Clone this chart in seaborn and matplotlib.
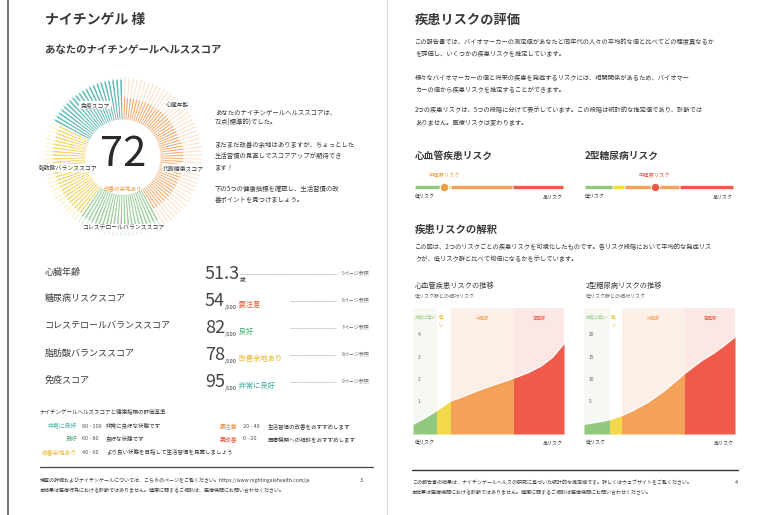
import matplotlib.pyplot as plt
import numpy as np
import seaborn as sns
from matplotlib.lines import Line2D
from matplotlib.patches import Rectangle

W, H = 760, 515

# ---- data ----------------------------------------------------------------
total_score = 72
seg_labels = ["心臓年齢", "代謝健康スコア", "コレステロールバランススコア",
              "脂肪酸バランススコア", "免疫スコア"]
seg_scores = [51.3, 54, 82, 78, 95]
seg_bars = [25, 25, 22, 27, 21]
seg_colors = ["#f2a15c", "#f3a866", "#8fca8c", "#f1d35c", "#52b4ac"]

row_labels = ["心臓年齢", "糖尿病リスクスコア", "コレステロールバランススコア",
              "脂肪酸バランススコア", "免疫スコア"]
row_values = ["51.3", "54", "82", "78", "95"]
row_units = ["歳", "/100", "/100", "/100", "/100"]
row_tags = ["", "要注意", "良好", "改善余地あり", "非常に良好"]
row_tag_colors = ["#333333", "#e8603c", "#3fa56e", "#e9b125", "#3aa8a2"]
row_pages = ["5ページ参照", "6ページ参照", "7ページ参照", "8ページ参照", "9ページ参照"]

legend_left = [("非常に良好", "80 - 100", "非常に良好な状態です", "#3aa8a2"),
               ("良好", "60 - 80", "良好な状態です", "#3fa56e"),
               ("改善余地あり", "40 - 60", "より良い状態を目指して生活習慣を見直しましょう", "#e9b125")]
legend_right = [("要注意", "20 - 40", "生活習慣の改善をおすすめします", "#f08a3c"),
                ("要改善", "0 - 20", "医療機関への相談をおすすめします", "#e8503c")]

band_edges = [[0, 16, 25, 67, 100], [0, 17, 25, 67, 100]]
band_names = ["非常に低い", "低\nい", "中程度", "高程度"]
band_colors = ["#93c97f", "#f3d84c", "#f4a25a", "#ef5b4b"]
band_bg = ["#f6f8f2", "#ffffff", "#fcefe8", "#fbe8e4"]

cv_x = [0, 7.8, 16, 24.6, 33.5, 44.6, 55.8, 67, 75.9, 84.8, 92.6, 100]
cv_y = [0.0, 0.28, 0.63, 1.03, 1.25, 1.55, 1.81, 2.07, 2.30, 2.60, 3.01, 3.61]
dm_x = [0, 8.4, 17.3, 25.1, 32.9, 41.8, 52.9, 66.7, 77.3, 86.2, 92.9, 100]
dm_y = [0.0, 0.45, 1.05, 2.0, 3.15, 4.8, 7.4, 11.35, 14.1, 15.95, 17.6, 19.55]
cv_ticks = [1, 2, 3, 4]
dm_ticks = [5, 10, 15, 20]

gauge_edges = [[0, 0.18, 0.24, 0.66, 1.0], [0, 0.19, 0.27, 0.64, 1.0]]
gauge_marker = [0.2, 0.47]
gauge_marker_colors = ["#f0a04a", "#ec5a45"]

# ---- helpers ---------------------------------------------------------------
sns.set_theme(style="white")
plt.rcParams['font.family'] = ['Noto Sans CJK JP', 'DejaVu Sans']
TXT = "#3a3a3a"

fig = plt.figure(figsize=(7.6, 5.15), dpi=100)
fig.patch.set_facecolor("white")


def txt(x, y, s, **kw):
    kw.setdefault("va", "center")
    kw.setdefault("color", TXT)
    return fig.text(x / W, 1 - y / H, s, **kw)


def add_ax(x, y, w, h, **kw):
    return fig.add_axes([x / W, 1 - (y + h) / H, w / W, h / H], **kw)


def hline(x0, x1, y, **kw):
    fig.add_artist(Line2D([x0 / W, x1 / W], [1 - y / H] * 2, **kw))


def vline(x, y0, y1, **kw):
    fig.add_artist(Line2D([x / W] * 2, [1 - y0 / H, 1 - y1 / H], **kw))


# page edges
vline(8, 0, 515, color="#555555", lw=1.2)
vline(387, 0, 515, color="#dddddd", lw=0.8)

# ---- left page -------------------------------------------------------------
txt(45, 20, "ナイチンゲル 様", fontsize=10, fontweight="bold")
txt(45, 50, "あなたのナイチンゲールヘルススコア", fontsize=7.5, fontweight="bold")

pax = add_ax(43, 77, 160, 160, projection="polar")
pax.set_theta_zero_location("N")
pax.set_theta_direction(-1)
step = 2 * np.pi / sum(seg_bars)
start = 0
for n, score, col in zip(seg_bars, seg_scores, seg_colors):
    th = start + step * (np.arange(n) + 0.5)
    pax.bar(th, 0.52, width=step * 0.3, bottom=0.47, color=col, alpha=0.3, lw=0)
    pax.bar(th, 0.52 * score / 100, width=step * 0.4, bottom=0.47, color=col, alpha=0.85, lw=0)
    start += n * step
pax.set_ylim(0, 1)
pax.axis("off")

txt(123, 155, str(total_score), fontsize=30, ha="center", color="#2a2a2a")
txt(123, 188, "改善の余地あり", fontsize=4, ha="center", color="#e99a3a")
lab_pos = [(178, 105), (183, 168), (123, 228), (68, 168), (95, 105)]
for (x, y), s in zip(lab_pos, seg_labels):
    txt(x, y, s, fontsize=4.2, ha="center",
        bbox=dict(boxstyle="square,pad=0.15", fc="white", ec="none"))

para = ["あなたのナイチンゲールヘルススコアは、",
        "72点(標準的)でした。",
        "",
        "まだまだ改善の余地はありますが、ちょっとした",
        "生活習慣の見直しでスコアアップが期待でき",
        "ます！",
        "",
        "下の5つの健康指標を確認し、生活習慣の改",
        "善ポイントを見つけましょう。"]
for i, s in enumerate(para):
    txt(215, 112 + i * 11, s, fontsize=4.6)

# score table
for i in range(5):
    y = 272 + i * 27
    txt(45, y, row_labels[i], fontsize=6.5)
    num = txt(205, y + 7, row_values[i], fontsize=13, color="#444444", va="baseline")
    u = fig.add_artist(plt.Annotation(row_units[i], xy=(1.0, 0.0), xycoords=num,
                                      fontsize=4.2, color=TXT, va="bottom"))
    if row_tags[i]:
        fig.add_artist(plt.Annotation(" " + row_tags[i], xy=(1.0, 0.2), xycoords=u,
                                      fontsize=5.2, color=row_tag_colors[i], va="bottom"))
        x0 = 290
    else:
        x0 = 240
    hline(x0, 336, y + 2, color="#9a9a9a", lw=0.6, ls=(0, (1, 1)))
    txt(342, y + 2, row_pages[i], fontsize=3.6, color="#666666")

txt(40, 411, "ナイチンゲールヘルススコアと健康指標の評価基準", fontsize=4)
for i, (name, rng, desc, col) in enumerate(legend_left):
    y = 426 + i * 13
    txt(77, y, name, fontsize=4.2, color=col, ha="right")
    txt(82, y, rng, fontsize=4, color="#555555")
    txt(106, y, desc, fontsize=4)
for i, (name, rng, desc, col) in enumerate(legend_right):
    y = 426 + i * 13
    txt(220, y, name, fontsize=4.2, color=col)
    txt(243, y, rng, fontsize=4, color="#555555")
    txt(268, y, desc, fontsize=4)

hline(40, 373, 467, color="#444444", lw=0.9)
txt(40, 480, "検査の詳細およびナイチンゲールについては、こちらのページをご覧ください。https://www.nightingalehealth.com/ja",
    fontsize=3.6)
txt(40, 490, "本結果は医療行為における診断ではありません。健康に関するご相談は、医療機関にお問い合わせください。",
    fontsize=3.6)
txt(360, 481, "3", fontsize=4)

# ---- right page ------------------------------------------------------------
X0 = 415
txt(X0, 20, "疾患リスクの評価", fontsize=9.5, fontweight="bold")
rpara = [(42, "この報告書では、バイオマーカーの測定値があなたと同年代の人々の平均的な値と比べてどの程度異なるか"),
         (54, "を評価し、いくつかの疾患リスクを推定しています。"),
         (78, "様々なバイオマーカーの値と将来の疾患を発症するリスクには、相関関係があるため、バイオマー"),
         (90, "カーの値から疾患リスクを推定することができます。"),
         (110, "2つの疾患リスクは、5つの段階に分けて表示しています。この段階は統計的な推定値であり、診断では"),
         (122, "ありません。医療リスクは変わります。")]
for y, s in rpara:
    txt(X0, y, s, fontsize=4.5)

for k, (gx, title) in enumerate([(415, "心血管疾患リスク"), (585, "2型糖尿病リスク")]):
    txt(gx, 156, title, fontsize=7, fontweight="bold")
    gax = add_ax(gx - 2, 180, 152, 14)
    edges = gauge_edges[k]
    for j in range(4):
        gax.hlines(0, edges[j] + 0.004, edges[j + 1] - 0.004, color=band_colors[j], lw=2.4)
    gax.scatter([gauge_marker[k]], [0], s=38, color=gauge_marker_colors[k],
                edgecolor="white", lw=0.8, zorder=5)
    gax.set_xlim(-0.01, 1.01)
    gax.set_ylim(-1, 1)
    gax.axis("off")
    mx = gx + gauge_marker[k] * 148
    txt(mx, 176, "中程度リスク", fontsize=3.8, ha="center", color=gauge_marker_colors[k])
    txt(gx, 197, "低リスク", fontsize=3.6)
    txt(gx + 148, 197, "高リスク", fontsize=3.6, ha="right")

txt(X0, 230, "疾患リスクの解釈", fontsize=7.5, fontweight="bold")
txt(X0, 247, "この図は、2つのリスクごとの疾患リスクを可視化したものです。各リスク段階において平均的な発症リス",
    fontsize=4.5)
txt(X0, 259, "クが、低リスク群と比べて何倍になるかを示しています。", fontsize=4.5)

charts = [(413, "心血管疾患リスクの推移", cv_x, cv_y, cv_ticks, (-0.43, 5.2)),
          (584, "2型糖尿病リスクの推移", dm_x, dm_y, dm_ticks, (-2.15, 26.0))]
for k, (cx, title, xs, ys, ticks, ylim) in enumerate(charts):
    txt(cx + 2, 286, title, fontsize=5.2)
    txt(cx + 2, 297, "低リスク群との相対リスク", fontsize=3.6, color="#666666")
    ax = add_ax(cx, 308, 151, 126)
    edges = band_edges[k]
    for j in range(4):
        ax.axvspan(edges[j], edges[j + 1], color=band_bg[j], lw=0)
    for j in range(4):
        poly = ax.fill_between(xs, ylim[0], ys, color=band_colors[j], lw=0)
        clip = Rectangle((edges[j], ylim[0]), edges[j + 1] - edges[j], ylim[1] - ylim[0],
                         transform=ax.transData)
        poly.set_clip_path(clip)
        ax.text((edges[j] + edges[j + 1]) / 2 if j > 1 else edges[j] + 1,
                ylim[1] - (ylim[1] - ylim[0]) * 0.06, band_names[j],
                fontsize=3.2, color=band_colors[j] if j != 1 else "#e4b400",
                ha="center" if j > 1 else "left", va="top", linespacing=1.5)
    sns.lineplot(x=xs, y=ys, ax=ax, color="white", lw=0.6)
    for t in ticks:
        ax.text(3, t, str(t), fontsize=3.6, color="#666666", va="center")
    ax.set_xlim(0, 100)
    ax.set_ylim(*ylim)
    ax.axis("off")
    txt(cx + 2, 443, "低リスク", fontsize=3.6)
    txt(cx + 150, 443, "高リスク", fontsize=3.6, ha="right")

hline(412, 738, 470, color="#333333", lw=1.0)
txt(412, 482, "この報告書の結果は、ナイチンゲールヘルスの研究に基づいた統計的な推定値です。詳しくはウェブサイトをご覧ください。",
    fontsize=3.6)
txt(412, 492, "本結果は医療機関における診断ではありません。健康に関するご相談は医療機関にお問い合わせください。",
    fontsize=3.6)
txt(735, 482, "4", fontsize=4)

fig.savefig("out.png", dpi=100, facecolor="white")
